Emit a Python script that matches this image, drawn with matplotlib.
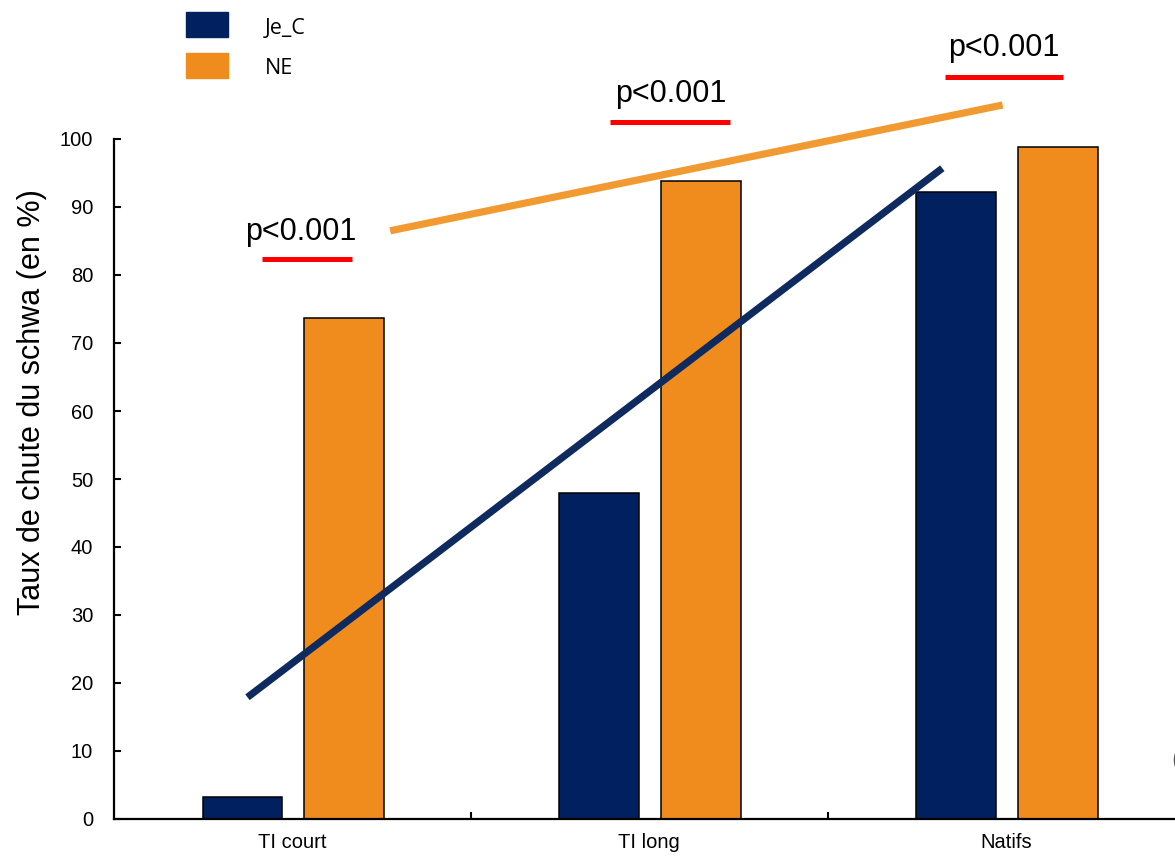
import numpy as np
import matplotlib
matplotlib.use("Agg")
import matplotlib.pyplot as plt
from matplotlib.patches import Rectangle

# data
categories = ["TI court", "TI long", "Natifs"]
je_c = [3.2, 47.9, 92.2]
ne = [73.7, 93.8, 98.8]
series_names = ["Je_C", "NE"]
p_labels = ["p<0.001", "p<0.001", "p<0.001"]

# hand-drawn trend lines (x in category units, y in %)
je_c_line_x = [-0.126, 1.821]
je_c_line_y = [17.9, 95.7]
ne_line_x = [0.274, 1.99]
ne_line_y = [86.5, 105.0]

# p-value annotations: text centre and underline
p_text_x = [0.022, 1.059, 1.992]
p_text_y = [86.3, 106.6, 113.4]
p_line_x0 = [-0.084, 0.891, 1.829]
p_line_x1 = [0.168, 1.227, 2.160]
p_line_y = [82.4, 102.5, 109.1]

navy = "#002060"
orange = "#F08C1E"
line_navy = "#0E2A5E"
line_orange = "#F29A32"

plt.rcParams["font.family"] = ["Liberation Sans", "DejaVu Sans"]

fig = plt.figure(figsize=(11.75, 8.58), dpi=100)
ax = fig.add_axes([114 / 1175, 1 - 819 / 858, 1 - 114 / 1175, 680 / 858])

x = np.arange(len(categories))
width = 0.224
ax.bar(x - 0.14, je_c, width, color=navy, edgecolor="black", linewidth=1.1, zorder=2)
ax.bar(x + 0.144, ne, width, color=orange, edgecolor="black", linewidth=1.1, zorder=2)

ax.plot(je_c_line_x, je_c_line_y, color=line_navy, lw=5.2, solid_capstyle="butt",
        clip_on=False, zorder=3)
ax.plot(ne_line_x, ne_line_y, color=line_orange, lw=5.2, solid_capstyle="butt",
        clip_on=False, zorder=3)

for tx, ty, lx0, lx1, ly, lab in zip(p_text_x, p_text_y, p_line_x0, p_line_x1,
                                      p_line_y, p_labels):
    ax.text(tx, ty, lab, ha="center", va="center", fontsize=22, clip_on=False)
    ax.plot([lx0, lx1], [ly, ly], color="#FF0000", lw=3.6, solid_capstyle="butt",
            clip_on=False)

ax.set_xlim(-0.5, 2.473)
ax.set_ylim(0, 100)
ax.set_yticks(np.arange(0, 101, 10))
ax.set_xticks([0.5, 1.5])
ax.set_xticklabels([])
ax.set_xticks(x, minor=True)
ax.set_xticklabels(categories, minor=True)
ax.tick_params(axis="x", which="minor", length=0, pad=10, labelsize=14.5)
ax.tick_params(axis="x", which="major", direction="in", length=5, width=1.5)
ax.tick_params(axis="y", direction="in", length=5, width=1.5, pad=15, labelsize=14.5)

for side in ["top", "right"]:
    ax.spines[side].set_visible(False)
for side in ["left", "bottom"]:
    ax.spines[side].set_linewidth(1.6)

fig.text(32 / 1175, 1 - 402 / 858, "Taux de chute du schwa (en %)", rotation=90,
         ha="center", va="center", fontsize=22)

# legend at top left
for i, (name, col) in enumerate(zip(series_names, [navy, orange])):
    y0 = 12 + i * 41
    fig.patches.append(Rectangle((186 / 1175, 1 - (y0 + 25) / 858), 42 / 1175, 25 / 858,
                                 transform=fig.transFigure, color=col, figure=fig))
    fig.text(265 / 1175, 1 - (y0 + 16) / 858, name, ha="left", va="center",
             fontsize=15.5, family=["Open Sans", "DejaVu Sans"])

# stray bracket cut by the right edge, as in the original slide
fig.text(1171 / 1175, 1 - 760 / 858, "(", ha="left", va="center", fontsize=20,
         color="#555555")

fig.savefig("out.png", dpi=100)
